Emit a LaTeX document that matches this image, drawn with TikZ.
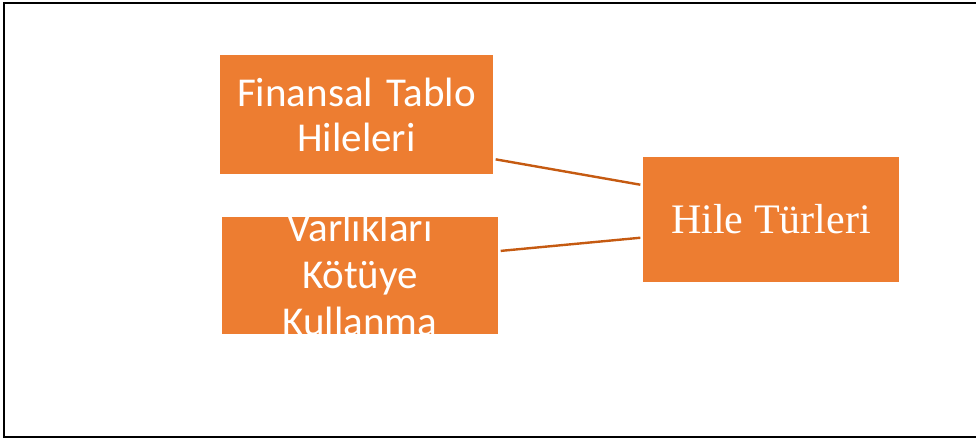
\documentclass[tikz,border=0pt]{standalone}
\usepackage{fontspec}
\newfontfamily\boxfont{Carlito}
\newfontfamily\mainboxfont{Liberation Serif}
\definecolor{hileorange}{HTML}{ED7D31}
\definecolor{hileline}{HTML}{C55A11}
\tikzset{
    kutu/.style={fill=hileorange, text=white, inner sep=0pt, align=center},
    baglanti/.style={draw=hileline, line width=2.4pt, shorten <=2.5pt, shorten >=2.5pt}
}
\begin{document}
\begin{tikzpicture}[x=1pt, y=-1pt]
        \useasboundingbox (0,0) rectangle (976,444);
        % Frame
        \draw[line width=2.2pt] (980,3) -- (4,3) -- (4,437) -- (980,437);

        % Left boxes
        \node[kutu, minimum width=273pt, minimum height=119pt, text width=270pt,
              font=\boxfont\fontsize{41}{45}\selectfont] (fin) at (356.5,114.5)
              {Finansal Tablo\\Hileleri};
        \node[kutu, minimum width=276pt, minimum height=117pt] (var) at (360,275.5) {};
        \begin{scope}
            \clip (var.south west) rectangle (var.north east);
            \node[text=white, align=center, inner sep=0pt,
                  font=\boxfont\fontsize{41}{47}\selectfont] (vartext) at (360,274)
                  {Varlıkları\\Kötüye\\Kullanma};
        \end{scope}

        % Right box
        \node[kutu, minimum width=256pt, minimum height=125pt,
              font=\mainboxfont\fontsize{42}{48}\selectfont] (hile) at (771,219.5)
              {Hile Türleri};

        % Connections
        \draw[baglanti] (fin.-18.8) -- (hile.165.3);
        \draw[baglanti] (var.10.5) -- (hile.-172.2);
    \end{tikzpicture}
\end{document}
